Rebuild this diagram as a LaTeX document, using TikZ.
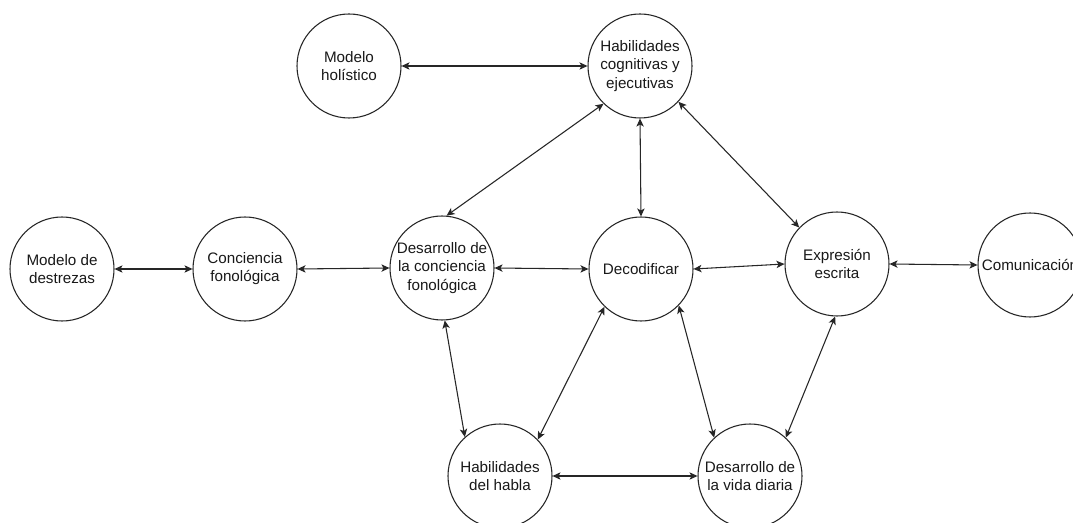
\documentclass[tikz,border=0pt]{standalone}
\usepackage{fontspec}
\setmainfont{Liberation Sans}
\usetikzlibrary{arrows.meta}
\begin{document}
\begin{tikzpicture}[x=0.75pt,y=-0.75pt,
  circ/.style={draw=black!85, line width=0.8pt, circle, minimum size=78pt, inner sep=0pt,
    align=center, font=\fontsize{11.4}{13.6}\selectfont, text=black!90},
  link/.style={draw=black!85, line width=0.8pt, {Stealth[length=6pt,width=5.5pt,inset=1.5pt]}-{Stealth[length=6pt,width=5.5pt,inset=1.5pt]}}]
\clip (0,0) rectangle (1073,523);
\fill[white] (0,0) rectangle (1073,523);
\node[circ] (hol) at (349,66) {Modelo\\holístico};
\node[circ] (hab) at (640,66) {Habilidades\\cognitivas y\\ejecutivas};
\node[circ] (des) at (62,269) {Modelo de\\destrezas};
\node[circ] (con) at (245,269) {Conciencia\\fonológica};
\node[circ] (dcf) at (442,268) {Desarrollo de\\la conciencia\\fonológica};
\node[circ] (dec) at (641,269) {Decodificar};
\node[circ] (exp) at (837,264) {Expresión\\escrita};
\node[circ] (com) at (1030,265) {Comunicación};
\node[circ] (hbl) at (500,476) {Habilidades\\del habla};
\node[circ] (vid) at (750,476) {Desarrollo de\\la vida diaria};
\draw[link] (hol.east) -- (hab.west);
\draw[link] (hab.226) -- (dcf.85);
\draw[link] (hab.270) -- (dec.90);
\draw[link] (hab.317) -- (exp.136);
\draw[link] (des.east) -- (con.west);
\draw[link] (con.east) -- (dcf.west);
\draw[link] (dcf.east) -- (dec.west);
\draw[link] (dec.east) -- (exp.west);
\draw[link] (exp.east) -- (com.west);
\draw[link] (dcf.273) -- (hbl.132);
\draw[link] (dec.226) -- (hbl.44);
\draw[link] (dec.316) -- (vid.133);
\draw[link] (exp.268) -- (vid.47);
\draw[link] (hbl.east) -- (vid.west);
\end{tikzpicture}
\end{document}
